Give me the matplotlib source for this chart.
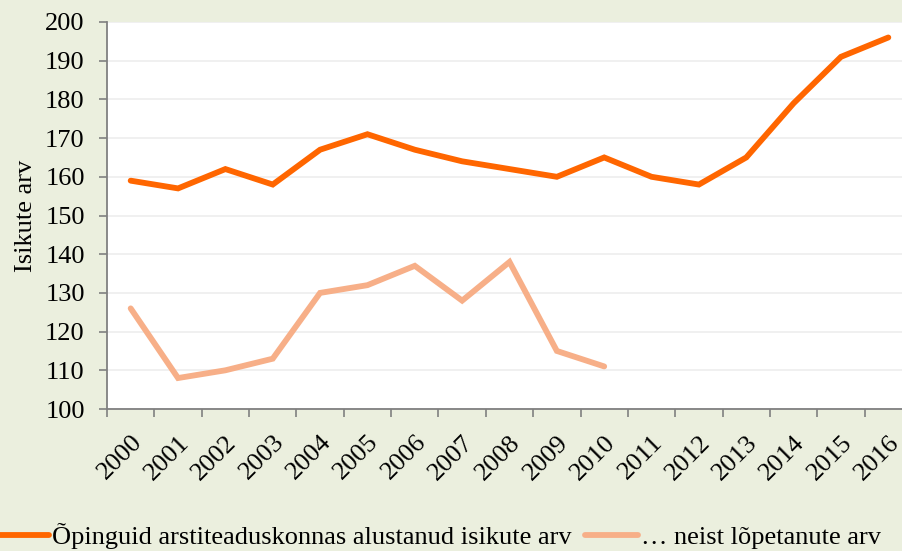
import matplotlib
matplotlib.use("Agg")
import matplotlib.pyplot as plt
import numpy as np

years = [str(y) for y in range(2000, 2017)]
alustanud = [159, 157, 162, 158, 167, 171, 167, 164, 162, 160, 165, 160, 158, 165, 179, 191, 196]
lopetanud = [126, 108, 110, 113, 130, 132, 137, 128, 138, 115, 111]
yticks = list(range(100, 201, 10))

plt.rcParams['font.family'] = ['Liberation Serif', 'DejaVu Serif']
FS = 19

bg = '#EBEFDE'
fig = plt.figure(figsize=(9.03, 5.51), dpi=100, facecolor=bg)
W, H = 903, 551
left, right, top, bottom = 107, 912, 22, 409
ax = fig.add_axes([left / W, 1 - bottom / H, (right - left) / W, (bottom - top) / H])
ax.set_facecolor('white')

x = np.arange(len(years))
l1, = ax.plot(x, alustanud, color='#FF6600', lw=4.2, solid_joinstyle='miter', solid_capstyle='round',
              label='Õpinguid arstiteaduskonnas alustanud isikute arv')
l2, = ax.plot(x[:len(lopetanud)], lopetanud, color='#F7AF88', lw=4.2, solid_joinstyle='miter',
              solid_capstyle='round', label='… neist lõpetanute arv')

ax.set_xlim(-0.5, len(years) - 0.5)
ax.set_ylim(100, 200)
ax.set_yticks(yticks)
ax.set_xticks(np.arange(-0.5, len(years), 1), minor=False)
ax.set_xticklabels([])
ax.set_xticks(x, minor=True)
ax.set_xticklabels(years, minor=True, rotation=45, ha='right', va='top', rotation_mode='anchor', fontsize=FS)
ax.tick_params(axis='x', which='minor', length=0, pad=16)
ax.tick_params(axis='x', which='major', length=6, width=1.2, color='#808080', direction='out')
ax.tick_params(axis='y', length=6, width=1.2, color='#808080', labelsize=FS, pad=10)
ax.grid(axis='y', color='#EFEFEF', lw=1.3)
ax.set_axisbelow(True)
for s in ['top', 'right']:
    ax.spines[s].set_visible(False)
for s in ['left', 'bottom']:
    ax.spines[s].set_color('#808080')
    ax.spines[s].set_linewidth(1.3)

ax.set_ylabel('Isikute arv', fontsize=FS, labelpad=6)

fig.legend(handles=[l1, l2], loc='lower left', bbox_to_anchor=(-0.022, -0.026), ncol=2, frameon=False,
           fontsize=FS, handlelength=2.0, handletextpad=0.12, columnspacing=0.5, borderaxespad=0.2)

fig.savefig('out.png', dpi=100, facecolor=bg)
